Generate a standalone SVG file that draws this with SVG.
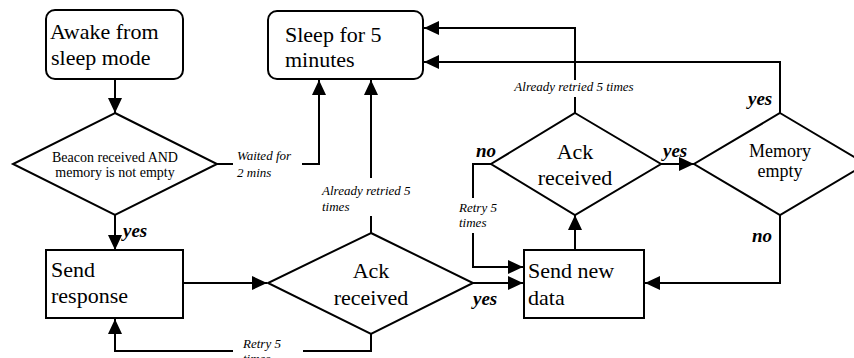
<svg xmlns="http://www.w3.org/2000/svg" width="854" height="358" viewBox="0 0 854 358">
<style>
.box{fill:#fff;stroke:#000;stroke-width:2}
.dia{fill:#fff;stroke:#000;stroke-width:2}
text{font-family:'Liberation Serif','DejaVu Serif','Times New Roman',serif;fill:#000}
.big{font-size:22px}
.mid{font-size:18px}
.small{font-size:14px}
.lbl{font-size:13px;font-style:italic}
.yn{font-size:19px;font-style:italic;font-weight:bold}
.c{text-anchor:middle}
.con{fill:none;stroke:#000;stroke-width:2}
</style>
<defs>
<marker id="arr" markerUnits="userSpaceOnUse" markerWidth="16" markerHeight="16" viewBox="0 0 16 16" refX="15" refY="8" orient="auto">
<path d="M0,1 L15,8 L0,15 Z" fill="#000"/>
</marker>
</defs>
<g id="connectors">
<path class="con" d="M115,79 V113" marker-end="url(#arr)"/>
<path class="con" d="M217,164 H233 M302,164 H319 V80" marker-end="url(#arr)"/>
<path class="con" d="M115,215 V250" marker-end="url(#arr)"/>
<path class="con" d="M183,283 H267" marker-end="url(#arr)"/>
<path class="con" d="M371,233 V216 M371,178 V80" marker-end="url(#arr)"/>
<path class="con" d="M473,283 H523" marker-end="url(#arr)"/>
<path class="con" d="M371,334 V351 H303 M233,351 H115 V319" marker-end="url(#arr)"/>
<path class="con" d="M575,250 V215" marker-end="url(#arr)"/>
<path class="con" d="M491,164 H473 V198 M473,233 V267 H523" marker-end="url(#arr)"/>
<path class="con" d="M575,113 V97 M575,80 V28 H424" marker-end="url(#arr)"/>
<path class="con" d="M661,164 H694" marker-end="url(#arr)"/>
<path class="con" d="M780,113 V62 H424" marker-end="url(#arr)"/>
<path class="con" d="M780,215 V283 H645" marker-end="url(#arr)"/>
</g>
<g id="awake">
<rect class="box" x="46" y="10" width="137" height="69" rx="9"/>
<text class="big" x="50" y="39" font-family="Liberation Serif, serif">Awake from</text>
<text class="big" x="51" y="65" font-family="Liberation Serif, serif">sleep mode</text>
</g>
<g id="sleep">
<rect class="box" x="268" y="11" width="155" height="68" rx="9"/>
<text class="big" x="285" y="42">Sleep for 5</text>
<text class="big" x="285" y="67">minutes</text>
</g>
<g id="beacon">
<path class="dia" d="M115,113 L217,164 L115,215 L13,164 Z"/>
<text class="small c" x="115" y="162">Beacon received AND</text>
<text class="small c" x="115" y="177">memory is not empty</text>
</g>
<g id="send-response">
<rect class="box" x="46" y="250" width="137" height="68"/>
<text class="big" x="51" y="277">Send</text>
<text class="big" x="51" y="303">response</text>
</g>
<g id="ack1">
<path class="dia" d="M371,233 L473,283 L371,334 L268,283 Z"/>
<text class="big c" x="371" y="278">Ack</text>
<text class="big c" x="371" y="305">received</text>
</g>
<g id="send-new-data">
<rect class="box" x="524" y="250" width="120" height="68"/>
<text class="big" x="528" y="278">Send new</text>
<text class="big" x="528" y="305">data</text>
</g>
<g id="ack2">
<path class="dia" d="M575,113 L661,164 L575,215 L491,164 Z"/>
<text class="big c" x="575" y="159">Ack</text>
<text class="big c" x="575" y="185">received</text>
</g>
<g id="memory">
<path class="dia" d="M780,113 L866,164 L780,215 L694,164 Z"/>
<text class="mid c" x="780" y="157">Memory</text>
<text class="mid c" x="780" y="177">empty</text>
</g>
<g id="labels">
<text class="lbl" x="237" y="160">Waited for</text>
<text class="lbl" x="237" y="177">2 mins</text>
<text class="yn" x="123" y="237">yes</text>
<text class="lbl" x="322" y="195">Already retried 5</text>
<text class="lbl" x="322" y="211">times</text>
<text class="yn" x="473" y="305">yes</text>
<text class="lbl" x="243" y="348">Retry 5</text>
<text class="lbl" x="243" y="363">times</text>
<text class="lbl" x="459" y="212">Retry 5</text>
<text class="lbl" x="459" y="227">times</text>
<text class="yn" x="476" y="157">no</text>
<text class="lbl c" x="574" y="91">Already retried 5 times</text>
<text class="yn" x="663" y="157">yes</text>
<text class="yn" x="748" y="105">yes</text>
<text class="yn" x="752" y="242">no</text>
</g>
</svg>
